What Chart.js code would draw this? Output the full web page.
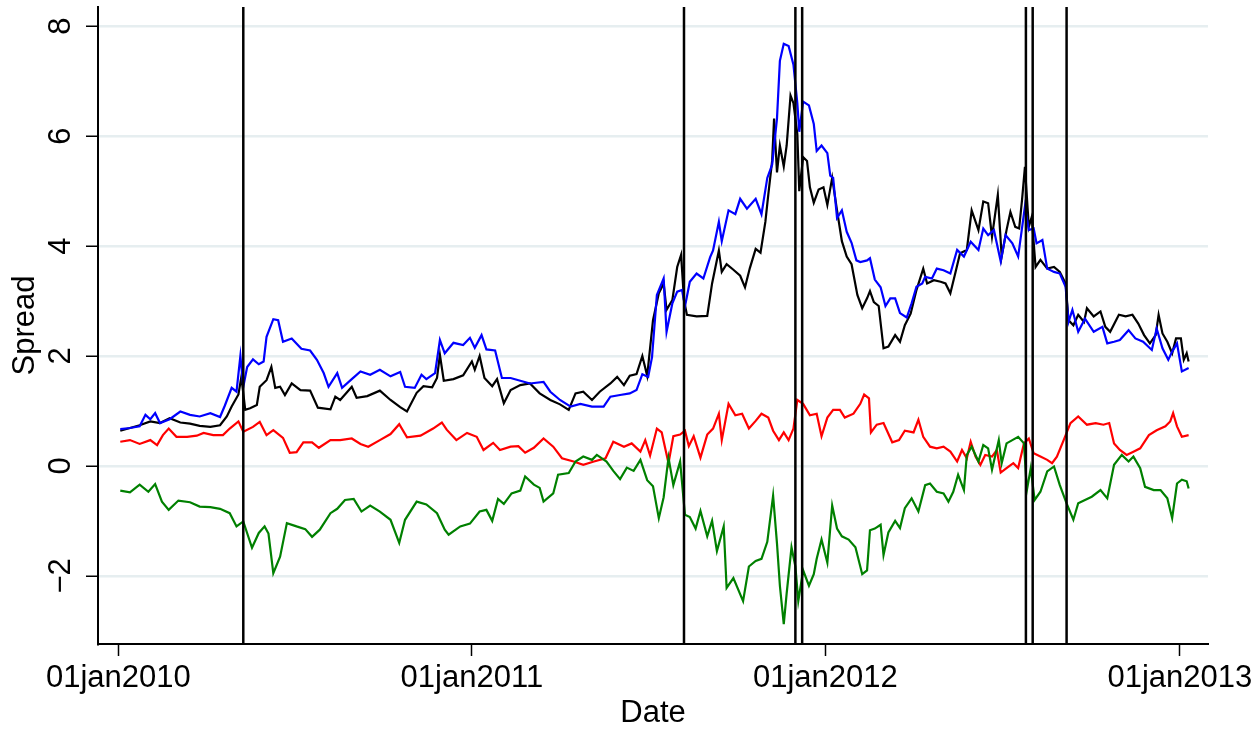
<!DOCTYPE html>
<html>
<head>
<meta charset="utf-8">
<script src="https://cdn.jsdelivr.net/npm/chart.js@4.4.1/dist/chart.umd.min.js"></script>
<style>
  html, body { margin: 0; padding: 0; background: #fff; }
  #wrap { width: 1253px; height: 729px; }
</style>
</head>
<body>
<div id="wrap"><canvas id="spreadChart" width="1253" height="729"></canvas></div>
<script>
// x values are days since 01jan2010
const xTickDays = [0, 365, 730, 1096];
const xTickLabels = ['01jan2010', '01jan2011', '01jan2012', '01jan2013'];
const yTickVals = [-2, 0, 2, 4, 6, 8];
const yTickLabels = ['\u22122', '0', '2', '4', '6', '8'];
const eventDays = [129, 584, 699, 706, 937, 944, 979];

const blackDays = [
  2, 12, 22, 33, 43, 53, 64, 74, 84, 95,
  105, 112, 117, 124, 127, 131, 136, 143, 146, 153,
  158, 162, 167, 172, 179, 188, 198, 206, 219, 224,
  229, 234, 241, 246, 257, 270, 281, 291, 298, 308,
  315, 324, 329, 332, 336, 346, 356, 365, 368, 373,
  378, 386, 391, 398, 405, 415, 425, 435, 446, 456,
  465, 472, 480, 489, 497, 508, 515, 522, 528, 535,
  541, 546, 552, 558, 563, 566, 572, 577, 581, 584,
  587, 597, 608, 613, 620, 623, 628, 635, 642, 647,
  652, 658, 663, 668, 671, 675, 677, 680, 683, 687,
  690, 694, 697, 701, 703, 707, 711, 714, 718, 723,
  728, 732, 737, 742, 747, 752, 757, 763, 768, 773,
  776, 780, 785, 790, 795, 802, 807, 812, 818, 824,
  831, 835, 842, 849, 854, 859, 864, 869, 876, 881,
  888, 893, 898, 902, 908, 912, 917, 921, 926, 930,
  933, 936, 940, 943, 947, 952, 959, 966, 972, 978,
  981, 986, 991, 997, 1000, 1007, 1014, 1019, 1024, 1033,
  1040, 1047, 1053, 1059, 1065, 1071, 1074, 1078, 1083, 1088,
  1092, 1097, 1100, 1103, 1105
];
const blackSpread = [
  0.64, 0.69, 0.74, 0.81, 0.78, 0.87, 0.79, 0.77, 0.73, 0.71,
  0.74, 0.9, 1.08, 1.3, 1.62, 1.02, 1.05, 1.11, 1.44, 1.56,
  1.8, 1.42, 1.44, 1.29, 1.5, 1.38, 1.37, 1.06, 1.03, 1.26,
  1.2, 1.3, 1.44, 1.24, 1.27, 1.37, 1.2, 1.07, 0.99, 1.33,
  1.45, 1.43, 1.6, 2.02, 1.55, 1.58, 1.65, 1.9, 1.75, 2.0,
  1.6, 1.45, 1.58, 1.14, 1.38, 1.47, 1.5, 1.32, 1.2, 1.12,
  1.02, 1.32, 1.35, 1.2, 1.35, 1.5, 1.62, 1.47, 1.64, 1.67,
  2.0, 1.64, 2.65, 3.14, 3.32, 2.84, 3.02, 3.62, 3.84, 3.02,
  2.75, 2.72, 2.73, 3.32, 3.92, 3.53, 3.67, 3.57, 3.46, 3.25,
  3.6, 3.95, 3.88, 4.44, 4.93, 5.55, 6.32, 5.34, 5.83, 5.45,
  5.83, 6.74, 6.6, 6.04, 5.0, 5.62, 5.55, 5.07, 4.79, 5.03,
  5.07, 4.75, 5.24, 4.65, 4.09, 3.81, 3.67, 3.11, 2.87, 3.05,
  3.18, 2.98, 2.91, 2.14, 2.17, 2.38, 2.26, 2.56, 2.77, 3.2,
  3.59, 3.32, 3.38, 3.35, 3.32, 3.14, 3.5, 3.87, 3.93, 4.65,
  4.29, 4.81, 4.78, 4.17, 4.93, 3.81, 4.29, 4.62, 4.35, 4.32,
  4.84, 5.44, 4.35, 4.53, 3.62, 3.75, 3.59, 3.62, 3.53, 3.32,
  2.65, 2.56, 2.75, 2.62, 2.87, 2.72, 2.81, 2.53, 2.44, 2.75,
  2.72, 2.75, 2.59, 2.38, 2.23, 2.38, 2.75, 2.41, 2.26, 2.05,
  2.32, 2.32, 1.93, 2.05, 1.9
];

const blueDays = [
  2, 12, 22, 28, 33, 38, 43, 53, 64, 74,
  84, 95, 105, 110, 117, 122, 126, 129, 133, 139,
  145, 150, 153, 160, 165, 170, 179, 189, 198, 205,
  212, 217, 226, 231, 241, 250, 260, 270, 281, 291,
  296, 306, 313, 318, 327, 332, 337, 346, 356, 363,
  368, 375, 380, 389, 396, 405, 415, 425, 439, 446,
  456, 467, 477, 489, 501, 508, 518, 528, 535, 541,
  547, 551, 556, 563, 566, 572, 577, 582, 585, 590,
  597, 604, 611, 614, 620, 623, 630, 637, 642, 649,
  658, 664, 670, 675, 680, 683, 687, 692, 697, 701,
  703, 707, 713, 718, 721, 726, 732, 735, 738, 742,
  747, 752, 757, 762, 766, 773, 776, 781, 787, 792,
  797, 802, 807, 814, 819, 824, 830, 833, 840, 845,
  852, 859, 866, 873, 880, 888, 893, 898, 904, 911,
  916, 923, 929, 936, 940, 945, 948, 954, 959, 966,
  972, 978, 981, 985, 991, 998, 1007, 1016, 1021, 1028,
  1034, 1043, 1050, 1058, 1067, 1072, 1078, 1084, 1088, 1093,
  1098, 1105
];
const blueSpread = [
  0.67, 0.69, 0.72, 0.93, 0.85, 0.96, 0.78, 0.85, 0.99, 0.93,
  0.9, 0.96, 0.89, 1.1, 1.42, 1.35, 2.0, 1.44, 1.8, 1.94,
  1.85, 1.9, 2.35, 2.67, 2.65, 2.26, 2.32, 2.13, 2.1, 1.93,
  1.69, 1.44, 1.69, 1.42, 1.58, 1.72, 1.66, 1.75, 1.63, 1.71,
  1.44, 1.42, 1.66, 1.58, 1.69, 2.29, 2.05, 2.24, 2.2, 2.33,
  2.15, 2.38, 2.12, 2.1, 1.6, 1.6, 1.55, 1.5, 1.53, 1.35,
  1.2, 1.08, 1.13, 1.08, 1.08, 1.26, 1.29, 1.32, 1.38, 1.67,
  1.62, 1.98, 3.11, 3.41, 2.44, 2.96, 3.17, 3.2, 2.9, 3.35,
  3.5, 3.41, 3.8, 3.92, 4.44, 4.09, 4.65, 4.58, 4.86, 4.68,
  4.86, 4.58, 5.24, 5.48, 6.32, 7.37, 7.68, 7.64, 7.3, 6.6,
  6.08, 6.63, 6.56, 6.22, 5.73, 5.83, 5.69, 5.28, 5.24, 4.51,
  4.65, 4.26, 4.06, 3.74, 3.71, 3.74, 3.78, 3.39, 3.25, 2.91,
  3.05, 3.05, 2.78, 2.7, 2.96, 3.26, 3.32, 3.44, 3.41, 3.59,
  3.56, 3.5, 3.93, 3.81, 4.08, 3.93, 4.32, 4.2, 4.29, 3.72,
  4.2, 4.05, 3.81, 4.72, 4.29, 4.32, 4.05, 4.11, 3.59, 3.53,
  3.5, 3.26, 2.62, 2.84, 2.44, 2.68, 2.44, 2.53, 2.23, 2.26,
  2.29, 2.47, 2.32, 2.26, 2.11, 2.5, 2.14, 1.93, 2.08, 2.23,
  1.72, 1.78
];

const redDays = [
  2, 12, 22, 33, 40, 46, 52, 60, 71, 81,
  88, 98, 108, 115, 124, 129, 139, 146, 153, 160,
  170, 177, 184, 191, 200, 207, 219, 229, 241, 250,
  258, 270, 281, 290, 298, 312, 325, 334, 339, 349,
  360, 370, 377, 387, 394, 405, 413, 420, 429, 439,
  449, 458, 470, 480, 491, 503, 511, 522, 530, 539,
  544, 549, 556, 561, 568, 573, 580, 585, 589, 594,
  601, 608, 614, 620, 623, 630, 637, 644, 651, 658,
  664, 671, 676, 682, 687, 692, 697, 701, 707, 714,
  721, 726, 732, 738, 745, 750, 759, 766, 770, 775,
  777, 783, 790, 799, 806, 812, 821, 826, 831, 838,
  845, 852, 859, 866, 871, 876, 880, 885, 890, 895,
  902, 907, 911, 917, 924, 929, 935, 940, 945, 952,
  959, 964, 969, 976, 983, 991, 1000, 1009, 1017, 1023,
  1028, 1034, 1041, 1048, 1055, 1064, 1072, 1081, 1086, 1089,
  1093, 1098, 1105
];
const redSpread = [
  0.44, 0.47, 0.4, 0.47, 0.38, 0.56, 0.68, 0.53, 0.53, 0.55,
  0.6, 0.56, 0.56, 0.68, 0.81, 0.62, 0.71, 0.8, 0.56, 0.65,
  0.51, 0.24, 0.25, 0.43, 0.43, 0.33, 0.47, 0.47, 0.5, 0.4,
  0.35, 0.47, 0.58, 0.76, 0.52, 0.55, 0.68, 0.79, 0.66, 0.47,
  0.6, 0.53, 0.29, 0.42, 0.29, 0.35, 0.36, 0.24, 0.33, 0.5,
  0.35, 0.14, 0.08, 0.02, 0.08, 0.14, 0.44, 0.35, 0.41, 0.26,
  0.47, 0.19, 0.68, 0.61, 0.05, 0.54, 0.57, 0.64, 0.36, 0.54,
  0.15, 0.57, 0.68, 0.95, 0.47, 1.13, 0.92, 0.95, 0.68, 0.82,
  0.95, 0.88, 0.64, 0.47, 0.61, 0.47, 0.68, 1.2, 1.13, 0.92,
  0.95, 0.54, 0.88, 1.02, 1.02, 0.88, 0.95, 1.13, 1.3, 1.23,
  0.61, 0.75, 0.78, 0.43, 0.47, 0.64, 0.61, 0.84, 0.53, 0.35,
  0.32, 0.35, 0.26, 0.08, 0.29, 0.14, 0.44, 0.17, 0.02, 0.2,
  0.17, 0.29, -0.12, -0.04, 0.05, -0.04, 0.41, 0.5, 0.23, 0.17,
  0.11, 0.05, 0.17, 0.47, 0.78, 0.9, 0.75, 0.78, 0.75, 0.78,
  0.41, 0.29, 0.2, 0.26, 0.32, 0.56, 0.65, 0.72, 0.81, 0.96,
  0.72, 0.53, 0.56
];

const greenDays = [
  2, 12, 22, 31, 38, 45, 52, 62, 74, 84,
  95, 105, 115, 122, 129, 138, 145, 151, 155, 160,
  167, 174, 184, 193, 200, 208, 219, 226, 234, 243,
  251, 260, 270, 281, 290, 296, 308, 318, 329, 337,
  341, 353, 363, 373, 380, 386, 392, 398, 406, 415,
  420, 429, 435, 439, 449, 454, 465, 472, 480, 489,
  494, 504, 511, 518, 525, 532, 539, 546, 552, 558,
  563, 568, 573, 580, 585, 590, 596, 601, 608, 613,
  618, 625, 628, 635, 645, 651, 658, 664, 670, 676,
  680, 683, 687, 690, 695, 699, 702, 707, 713, 718,
  721, 726, 732, 737, 742, 747, 754, 761, 768, 773,
  776, 781, 787, 790, 795, 802, 807, 812, 819, 826,
  833, 838, 845, 852, 857, 862, 867, 873, 876, 881,
  888, 893, 898, 902, 909, 912, 917, 923, 929, 935,
  938, 942, 946, 952, 959, 966, 972, 979, 986, 991,
  998, 1005, 1014, 1021, 1028, 1036, 1043, 1048, 1055, 1060,
  1069, 1076, 1083, 1088, 1093, 1098, 1103, 1105
];
const greenSpread = [
  -0.45, -0.48, -0.34, -0.47, -0.33, -0.65, -0.8, -0.63, -0.66, -0.74,
  -0.75, -0.78, -0.86, -1.1, -1.01, -1.49, -1.22, -1.1, -1.23, -1.95,
  -1.65, -1.04, -1.1, -1.15, -1.29, -1.16, -0.86, -0.78, -0.62, -0.6,
  -0.83, -0.72, -0.83, -0.98, -1.4, -0.98, -0.65, -0.7, -0.86, -1.16,
  -1.25, -1.1, -1.05, -0.83, -0.8, -1.0, -0.6, -0.69, -0.5, -0.45,
  -0.19, -0.34, -0.4, -0.65, -0.5, -0.16, -0.13, 0.08, 0.17, 0.11,
  0.2, 0.08, -0.09, -0.24, -0.03, -0.09, 0.11, -0.26, -0.37, -0.95,
  -0.57, 0.15, -0.35, 0.08, -0.89, -0.93, -1.14, -0.82, -1.28, -1.0,
  -1.55, -1.1, -2.22, -2.04, -2.46, -1.83, -1.73, -1.69, -1.38, -0.54,
  -1.41, -2.18, -2.88, -2.32, -1.48, -1.83, -2.46, -1.9, -2.18, -1.97,
  -1.69, -1.34, -1.76, -0.72, -1.14, -1.28, -1.34, -1.48, -1.97, -1.9,
  -1.17, -1.14, -1.07, -1.62, -1.21, -1.0, -1.13, -0.77, -0.59, -0.83,
  -0.35, -0.32, -0.47, -0.5, -0.65, -0.47, -0.16, -0.44, 0.2, 0.35,
  0.08, 0.38, 0.32, -0.07, 0.47, 0.05, 0.41, 0.47, 0.53, 0.41,
  -0.44, -0.04, -0.62, -0.47, -0.1, -0.01, -0.35, -0.68, -0.98, -0.68,
  -0.62, -0.56, -0.44, -0.59, 0.02, 0.2, 0.08, 0.17, -0.04, -0.38,
  -0.44, -0.44, -0.59, -0.95, -0.32, -0.25, -0.28, -0.41
];

const FONT = '"Liberation Sans", Arial, Helvetica, sans-serif';

function toPoints(days, vals) {
  return days.map((d, i) => ({ x: d, y: vals[i] }));
}

function series(label, days, vals, color) {
  return {
    label: label,
    data: toPoints(days, vals),
    borderColor: color,
    borderWidth: 2.2,
    pointRadius: 0,
    tension: 0,
    fill: false
  };
}

// draws the event lines and all axis texts (Stata style, rotated y labels)
const stataDecor = {
  id: 'stataDecor',
  afterDatasetsDraw(chart) {
    const { ctx, chartArea, scales } = chart;
    ctx.save();
    ctx.strokeStyle = '#000';
    ctx.lineWidth = 2.5;
    eventDays.forEach(d => {
      const px = scales.x.getPixelForValue(d);
      ctx.beginPath();
      ctx.moveTo(px, chartArea.top);
      ctx.lineTo(px, chartArea.bottom);
      ctx.stroke();
    });
    ctx.restore();
  },
  afterDraw(chart) {
    const { ctx, chartArea, scales } = chart;
    ctx.save();
    ctx.fillStyle = '#000';
    ctx.font = '31px ' + FONT;
    ctx.textBaseline = 'alphabetic';
    ctx.textAlign = 'center';

    xTickDays.forEach((d, i) => {
      ctx.fillText(xTickLabels[i], scales.x.getPixelForValue(d), 687);
    });
    ctx.fillText('Date', (chartArea.left + chartArea.right) / 2, 722);

    yTickVals.forEach((v, i) => {
      ctx.save();
      ctx.translate(70, scales.y.getPixelForValue(v));
      ctx.rotate(-Math.PI / 2);
      ctx.fillText(yTickLabels[i], 0, 0);
      ctx.restore();
    });
    ctx.save();
    ctx.translate(34, (chartArea.top + chartArea.bottom) / 2);
    ctx.rotate(-Math.PI / 2);
    ctx.fillText('Spread', 0, 0);
    ctx.restore();
    ctx.restore();
  }
};

const ctx = document.getElementById('spreadChart').getContext('2d');

const spreadChart = new Chart(ctx, {
  type: 'line',
  data: {
    datasets: [
      series('diff2', greenDays, greenSpread, '#008000'),
      series('diff1', redDays, redSpread, '#ff0000'),
      series('spread2', blueDays, blueSpread, '#0000ff'),
      series('spread1', blackDays, blackSpread, '#000000')
    ]
  },
  options: {
    responsive: false,
    animation: false,
    events: [],
    layout: { padding: { left: 0, right: 45, top: 7, bottom: 0 } },
    plugins: {
      legend: { display: false },
      tooltip: { enabled: false }
    },
    scales: {
      x: {
        type: 'linear',
        min: -21,
        max: 1125,
        afterBuildTicks: (scale) => { scale.ticks = xTickDays.map(v => ({ value: v })); },
        afterFit: (scale) => { scale.height = 85; },
        ticks: { display: false },
        grid: {
          drawOnChartArea: false,
          drawTicks: true,
          tickLength: 12,
          tickColor: '#000',
          tickWidth: 1.5
        },
        border: { color: '#000', width: 2 }
      },
      y: {
        type: 'linear',
        min: -3.24,
        max: 8.35,
        afterBuildTicks: (scale) => { scale.ticks = yTickVals.map(v => ({ value: v })); },
        afterFit: (scale) => { scale.width = 98; },
        ticks: { display: false },
        grid: {
          color: '#e6eef0',
          lineWidth: 2.5,
          drawTicks: true,
          tickLength: 12,
          tickColor: '#000',
          tickWidth: 1.5
        },
        border: { color: '#000', width: 2 }
      }
    }
  },
  plugins: [stataDecor]
});
</script>
</body>
</html>
